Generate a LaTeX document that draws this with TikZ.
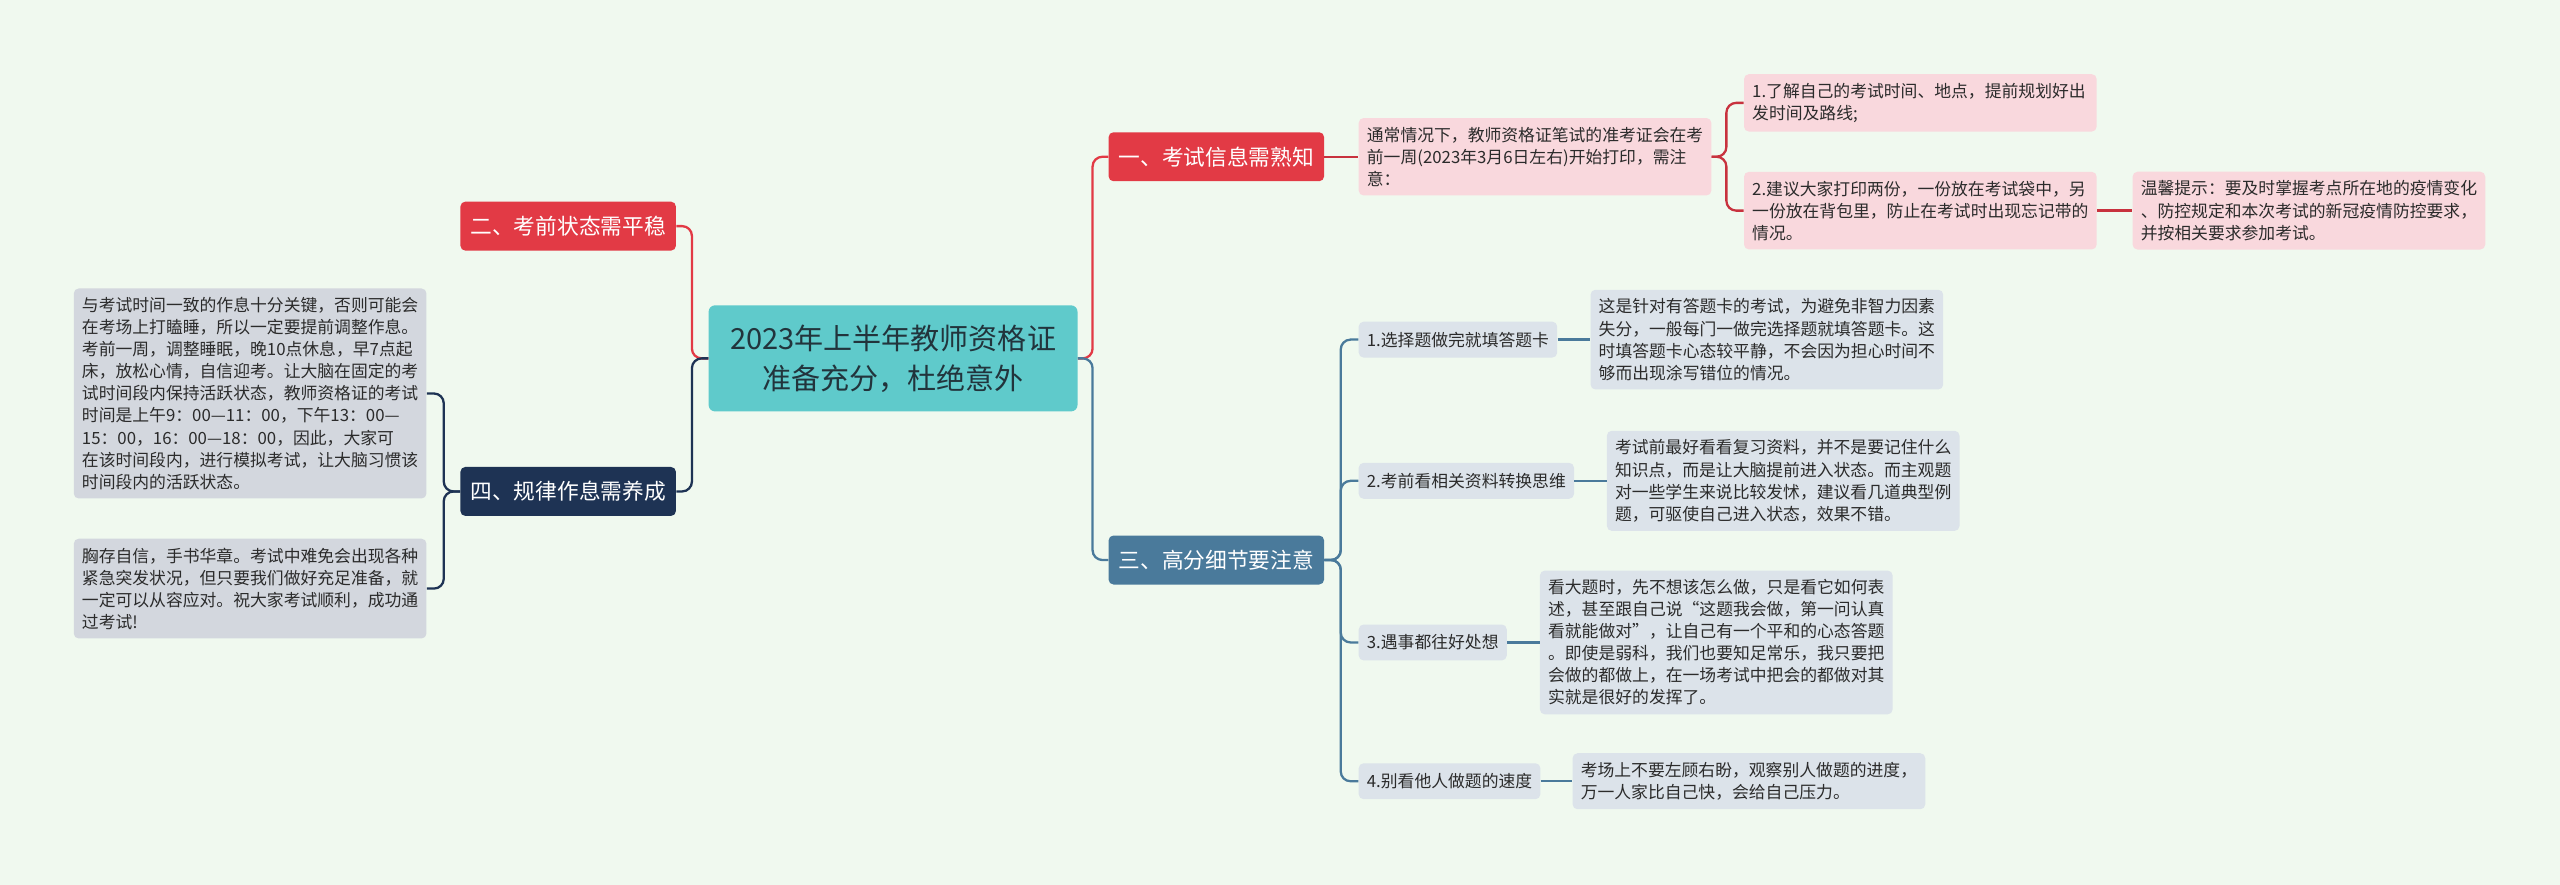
\documentclass[tikz,border=0pt]{standalone}
\usepackage{fontspec}
\setmainfont{Noto Sans CJK SC}
\usepackage{xcolor}
\usepackage{tikz}
\usetikzlibrary{
  positioning,
  calc,
}

\definecolor{bgcol}{HTML}{F0F9EF}
\definecolor{rootcol}{HTML}{5FCACB}
\definecolor{titlecol}{HTML}{22343C}
\definecolor{redcol}{HTML}{E23A45}
\definecolor{navycol}{HTML}{1E3354}
\definecolor{bluecol}{HTML}{4A7A9B}
\definecolor{pinkcol}{HTML}{F9D8DD}
\definecolor{pinkline}{HTML}{C8323E}
\definecolor{greycol}{HTML}{D3D7DE}
\definecolor{palecol}{HTML}{DCE3EA}
\definecolor{txtcol}{HTML}{2B2B2B}

\begin{document}
\begin{tikzpicture}[
  x=1pt, y=-1pt,
  every node/.style={align=left},
  root/.style={fill=rootcol, rounded corners=4pt, minimum width=226pt,
               minimum height=65pt, align=center, text=titlecol,
               font=\fontsize{17.8}{24.5}\selectfont},
  sect/.style={rounded corners=3pt, minimum width=132pt, minimum height=30pt,
               text=white, font=\fontsize{13.3}{16}\selectfont},
  note/.style={rounded corners=3pt, text width=206pt, inner xsep=5pt,
               inner ysep=5.5pt, text=txtcol,
               font=\fontsize{10.3}{13.5}\selectfont},
  tag/.style={rounded corners=3pt, inner xsep=5pt, minimum height=22pt,
              fill=palecol, text=txtcol, font=\fontsize{10.3}{13.5}\selectfont},
  link/.style={line width=1.4pt, rounded corners=6pt},
]

\fill[bgcol] (0,0) rectangle (1568,542);

\node[root] (root) at (547,219.5)
  {2023年上半年教师资格证\\准备充分，杜绝意外};

\node[sect, fill=redcol]  (sec1) at (745,96)    {一、考试信息需熟知};
\node[sect, fill=redcol]  (sec2) at (348,138.5) {二、考前状态需平稳};
\node[sect, fill=bluecol] (sec3) at (745,343)   {三、高分细节要注意};
\node[sect, fill=navycol] (sec4) at (348,301)   {四、规律作息需养成};

\node[note, fill=pinkcol, anchor=west] (info) at (832,96)
  {通常情况下，教师资格证笔试的准考证会在考\\
   前一周(2023年3月6日左右)开始打印，需注\\
   意：};
\node[note, fill=pinkcol, anchor=west] (tip1) at (1068,63)
  {1.了解自己的考试时间、地点，提前规划好出\\
   发时间及路线;};
\node[note, fill=pinkcol, anchor=west] (tip2) at (1068,129)
  {2.建议大家打印两份，一份放在考试袋中，另\\
   一份放在背包里，防止在考试时出现忘记带的\\
   情况。};
\node[note, fill=pinkcol, anchor=west] (warn) at (1306,129)
  {温馨提示：要及时掌握考点所在地的疫情变化\\
   、防控规定和本次考试的新冠疫情防控要求，\\
   并按相关要求参加考试。};

\node[note, fill=greycol, anchor=west] (rest1) at (45,241)
  {与考试时间一致的作息十分关键，否则可能会\\
   在考场上打瞌睡，所以一定要提前调整作息。\\
   考前一周，调整睡眠，晚10点休息，早7点起\\
   床，放松心情，自信迎考。让大脑在固定的考\\
   试时间段内保持活跃状态，教师资格证的考试\\
   时间是上午9：00—11：00，下午13：00—\\
   15：00，16：00—18：00，因此，大家可\\
   在该时间段内，进行模拟考试，让大脑习惯该\\
   时间段内的活跃状态。};
\node[note, fill=greycol, anchor=west] (rest2) at (45,360.5)
  {胸存自信，手书华章。考试中难免会出现各种\\
   紧急突发状况，但只要我们做好充足准备，就\\
   一定可以从容应对。祝大家考试顺利，成功通\\
   过考试!};

\node[tag, anchor=west] (item1) at (832,208)   {1.选择题做完就填答题卡};
\node[tag, anchor=west] (item2) at (832,294.5) {2.考前看相关资料转换思维};
\node[tag, anchor=west] (item3) at (832,393.5) {3.遇事都往好处想};
\node[tag, anchor=west] (item4) at (832,478.5) {4.别看他人做题的速度};

\node[note, fill=palecol, anchor=west] (det1) at (974,208)
  {这是针对有答题卡的考试，为避免非智力因素\\
   失分，一般每门一做完选择题就填答题卡。这\\
   时填答题卡心态较平静，不会因为担心时间不\\
   够而出现涂写错位的情况。};
\node[note, fill=palecol, anchor=west] (det2) at (984,294.5)
  {考试前最好看看复习资料，并不是要记住什么\\
   知识点，而是让大脑提前进入状态。而主观题\\
   对一些学生来说比较发怵，建议看几道典型例\\
   题，可驱使自己进入状态，效果不错。};
\node[note, fill=palecol, anchor=west] (det3) at (943,393.5)
  {看大题时，先不想该怎么做，只是看它如何表\\
   述，甚至跟自己说“这题我会做，第一问认真\\
   看就能做对”，让自己有一个平和的心态答题\\
   。即使是弱科，我们也要知足常乐，我只要把\\
   会做的都做上，在一场考试中把会的都做对其\\
   实就是很好的发挥了。};
\node[note, fill=palecol, anchor=west] (det4) at (963,478.5)
  {考场上不要左顾右盼，观察别人做题的进度，\\
   万一人家比自己快，会给自己压力。};

\draw[link, draw=redcol]  (root.west) -- ++(-10,0) |- (sec2.east);
\draw[link, draw=navycol] (root.west) -- ++(-10,0) |- (sec4.east);
\draw[link, draw=redcol]  (root.east) -- ++(9,0) |- (sec1.west);
\draw[link, draw=bluecol] (root.east) -- ++(9,0) |- (sec3.west);

\foreach \n in {rest1,rest2}{
  \draw[link, draw=navycol] (sec4.west) -- ++(-10,0) |- (\n.east);
}

\draw[link, draw=pinkline] (sec1.east) -- (info.west);
\foreach \n in {tip1,tip2}{
  \draw[link, draw=pinkline] (info.east) -- ++(9,0) |- (\n.west);
}
\draw[link, draw=pinkline] (tip2.east) -- (warn.west);

\foreach \i in {1,...,4}{
  \draw[link, draw=bluecol] (sec3.east) -- ++(10,0) |- (item\i.west);
  \draw[link, draw=bluecol] (item\i.east) -- (det\i.west);
}

\end{tikzpicture}
\end{document}
